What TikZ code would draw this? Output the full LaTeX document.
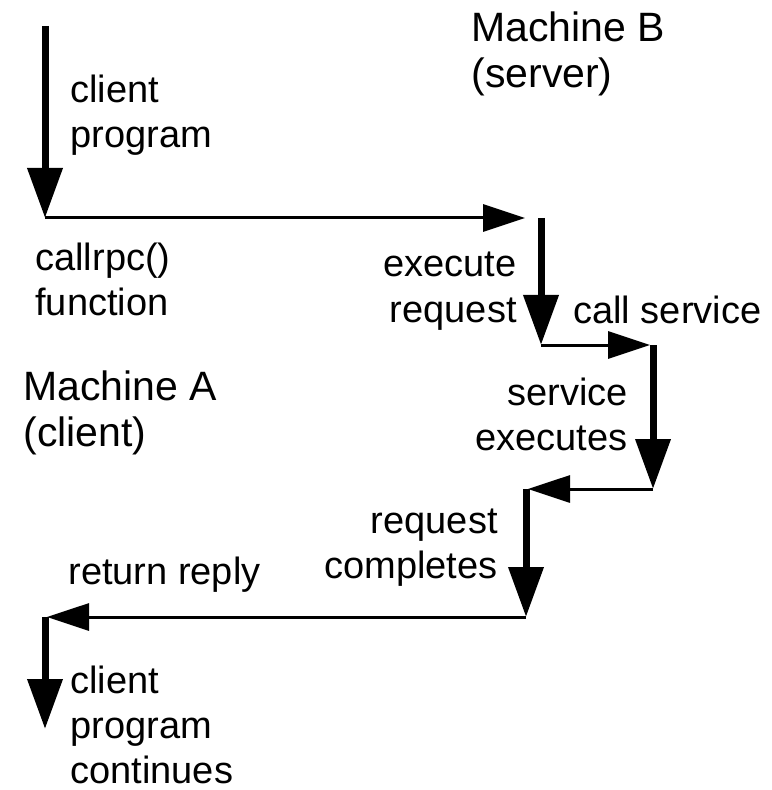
\documentclass[tikz,border=0pt]{standalone}
\usepackage{fontspec}
\setmainfont{Liberation Sans}
\usetikzlibrary{arrows.meta}

\begin{document}
\begin{tikzpicture}[x=0.5pt,y=-0.5pt,
    flow/.style={line width=3.5pt,-{Triangle[length=25pt,width=17pt]}},
    msg/.style={line width=1.5pt,-{Triangle[length=21pt,width=13.5pt]}},
    txt/.style={inner sep=0pt,font=\fontsize{19}{22.5}\selectfont},
    big/.style={inner sep=0pt,align=left,font=\fontsize{20.5}{23}\selectfont}]
    \useasboundingbox (0,0) rectangle (771,790);
    \coordinate (A0) at (45,26);
    \coordinate (A1) at (45,218);
    \coordinate (T1) at (525,218);
    \coordinate (B0) at (541,218);
    \coordinate (B1) at (541,345);
    \coordinate (T2) at (650,345);
    \coordinate (C0) at (653,345);
    \coordinate (C1) at (653,489);
    \coordinate (T3) at (528,489);
    \coordinate (D0) at (526,489);
    \coordinate (D1) at (526,617);
    \coordinate (T4) at (47,617);
    \coordinate (E0) at (45,617);
    \coordinate (E1) at (45,729);
    \draw[flow] (A0) -- (A1);
    \draw[msg] (A1) -- (T1);
    \draw[flow] (B0) -- (B1);
    \draw[msg] (B1) -- (T2);
    \draw[flow] (C0) -- (C1);
    \draw[msg] (C1) -- (T3);
    \draw[flow] (D0) -- (D1);
    \draw[msg] (D1) -- (T4);
    \draw[flow] (E0) -- (E1);
    \node[big,anchor=base west] (machB) at (471,88) {Machine B\\(server)};
    \node[big,anchor=base west] (machA) at (23,446) {Machine A\\(client)};
    \node[txt,anchor=base west,align=left] (clientprog) at (70,148) {client\\program};
    \node[txt,anchor=base west,align=left] (callrpc) at (35,316) {callrpc()\\function};
    \node[txt,anchor=base east,align=right] (execreq) at (517,322) {execute\\request};
    \node[txt,anchor=base west] (callserv) at (573,323) {call service};
    \node[txt,anchor=base east,align=right] (servexec) at (628,450) {service\\executes};
    \node[txt,anchor=base east,align=right] (reqcompl) at (498,578) {request\\completes};
    \node[txt,anchor=base west] (retreply) at (68,584) {return reply};
    \node[txt,anchor=base west,align=left] (clientcont) at (70,783) {client\\program\\continues};
\end{tikzpicture}
\end{document}
